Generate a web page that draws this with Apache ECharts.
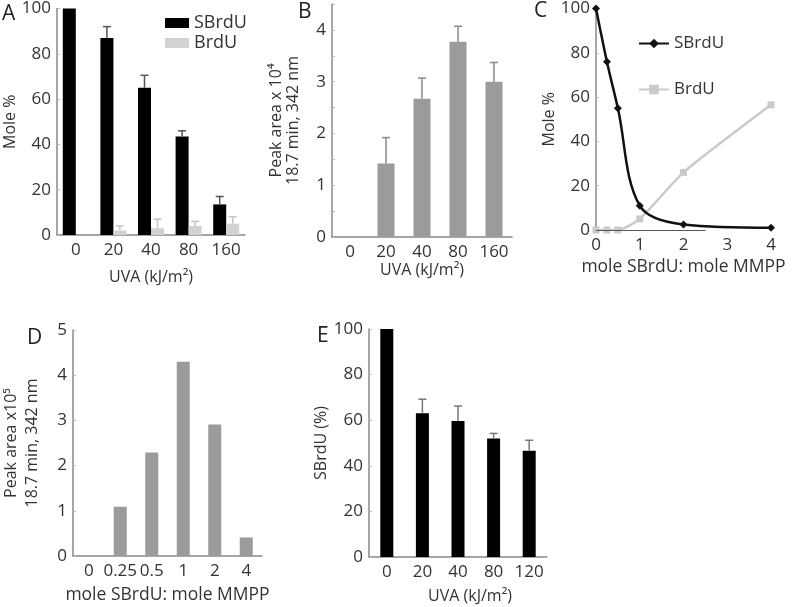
<!DOCTYPE html>
<html><head><meta charset="utf-8">
<script src="https://cdn.jsdelivr.net/npm/echarts@6/dist/echarts.min.js"></script>
<style>html,body{margin:0;padding:0;background:#fff}#c{width:793px;height:607px}</style>
</head><body><div id="c"></div>
<script>
// Panel A
const catsA = ['0','20','40','80','160'];
const sbrduA = [100, 87, 65, 43.5, 13.5];
const sbrduAErr = [0, 5, 5.5, 2.5, 3.5];
const brduA = [0, 2, 3, 4, 5];
const brduAErr = [0, 2, 4, 2, 3];
// Panel B
const catsB = ['0','20','40','80','160'];
const peakB = [0, 1.42, 2.67, 3.77, 3.0];
const peakBErr = [0, 0.5, 0.4, 0.3, 0.37];
// Panel C
const xC = [0, 0.25, 0.5, 1, 2, 4];
const sbrduC = [100, 76, 55, 11, 2.5, 1];
const brduC = [0, 0, 0, 5, 26, 56.5];
// Panel D
const catsD = ['0','0.25','0.5','1','2','4'];
const peakD = [0, 1.09, 2.29, 4.3, 2.91, 0.41];
// Panel E
const catsE = ['0','20','40','80','120'];
const sbrduE = [100, 63, 59.6, 52, 46.6];
const sbrduEErr = [0, 6.2, 6.6, 2.2, 4.6];

const FONT = 'Open Sans';
const TXT = '#333';
const AX = '#888';
const FS = 17;

function errSeries(cats, vals, errs, xi, yi, color, offset) {
  return {
    type: 'custom', xAxisIndex: xi, yAxisIndex: yi, z: 5,
    data: cats.map((c, i) => [i, vals[i], errs[i]]),
    renderItem: function (params, api) {
      const err = api.value(2);
      if (!(err > 0)) return null;
      const p = api.coord([api.value(0), api.value(1)]);
      const q = api.coord([api.value(0), api.value(1) + err]);
      const x = p[0] + offset;
      const st = { stroke: color, lineWidth: 1.5 };
      return { type: 'group', children: [
        { type: 'line', shape: { x1: x, y1: p[1], x2: x, y2: q[1] }, style: st },
        { type: 'line', shape: { x1: x - 4, y1: q[1], x2: x + 4, y2: q[1] }, style: st }
      ]};
    }
  };
}

function yAx(gi, max, interval, name, gap, extra) {
  return Object.assign({
    type: 'value', gridIndex: gi, min: 0, max: max, interval: interval,
    name: name, nameLocation: 'middle', nameGap: gap, nameRotate: 90,
    nameTextStyle: { fontFamily: FONT, fontSize: 16, color: TXT },
    axisLine: { show: true, lineStyle: { color: AX, width: 1.5 } },
    axisTick: { show: true, inside: true, length: 3, lineStyle: { color: '#bbb' } },
    axisLabel: { fontFamily: FONT, fontSize: FS, color: TXT, margin: 6 },
    splitLine: { show: false }
  }, extra || {});
}
function xCat(gi, cats, name, gap, extra) {
  return Object.assign({
    type: 'category', gridIndex: gi, data: cats,
    name: name, nameLocation: 'middle', nameGap: gap,
    nameTextStyle: { fontFamily: FONT, fontSize: 16, color: TXT },
    axisLine: { show: true, lineStyle: { color: AX, width: 1.5 } },
    axisTick: { show: false },
    axisLabel: { fontFamily: FONT, fontSize: FS, color: TXT, margin: 7, interval: 0 },
    splitLine: { show: false }
  }, extra || {});
}

const chart = echarts.init(document.getElementById('c'));
const letter = (t, l, tp) => ({ text: t, left: l, top: tp, padding: 0,
  textStyle: { fontFamily: FONT, fontSize: 21, fontWeight: 'normal', color: '#222' } });

chart.setOption({
  animation: false,
  backgroundColor: '#fff',
  title: [letter('A', 2, 4), letter('B', 298, 2), letter('C', 534, 1), letter('D', 27, 328), letter('E', 317, 326)],
  legend: [
    { data: ['SBrdU', 'BrdU'], left: 160, top: 9, orient: 'vertical', itemWidth: 24, itemHeight: 10, itemGap: 2,
      icon: 'rect', textStyle: { fontFamily: FONT, fontSize: 18, color: TXT } },
    { data: ['SBrdU ', 'BrdU '], left: 633, top: 30, orient: 'vertical', itemWidth: 30, itemHeight: 12, itemGap: 29,
      textStyle: { fontFamily: FONT, fontSize: 17, color: TXT } }
  ],
  grid: [
    { left: 57, top: 5, width: 188, height: 230 },
    { left: 332, top: 4, width: 180, height: 233 },
    { left: 596, top: 5, width: 175, height: 225 },
    { left: 70, top: 330, width: 192, height: 226 },
    { left: 369, top: 329, width: 178, height: 228 }
  ],
  xAxis: [
    xCat(0, catsA, 'UVA (kJ/m²)', 34),
    xCat(1, catsB, 'UVA (kJ/m²)', 25),
    { type: 'value', gridIndex: 2, min: 0, max: 4, interval: 1,
      name: 'mole SBrdU: mole MMPP', nameLocation: 'middle', nameGap: 28,
      nameTextStyle: { fontFamily: FONT, fontSize: 17.5, color: TXT },
      axisLine: { show: false }, axisTick: { show: false },
      axisLabel: { fontFamily: FONT, fontSize: FS, color: TXT, margin: 7 }, splitLine: { show: false } },
    xCat(3, catsD, 'mole SBrdU: mole MMPP', 30, { nameTextStyle: { fontFamily: FONT, fontSize: 17.5, color: TXT } }),
    xCat(4, catsE, 'UVA (kJ/m²)', 31, { nameTextStyle: { fontFamily: FONT, fontSize: 16, color: TXT, padding: [0, 0, 0, 24] } })
  ],
  yAxis: [
    yAx(0, 100, 20, 'Mole %', 34),
    yAx(1, 4.5, 0.5, 'Peak area x 10⁴\n18.7 min, 342 nm', 30, {
      axisLabel: { fontFamily: FONT, fontSize: FS, color: TXT, margin: 6,
        formatter: v => (Math.abs(v - Math.round(v)) < 1e-9 && v < 4.5) ? String(v) : '' },
      nameTextStyle: { fontFamily: FONT, fontSize: 16, color: TXT, lineHeight: 17 } }),
    yAx(2, 100, 20, 'Mole %', 37),
    yAx(3, 5, 1, 'Peak area x10⁵\n18.7 min, 342 nm', 30, {
      nameTextStyle: { fontFamily: FONT, fontSize: 16, color: TXT, lineHeight: 21 } }),
    yAx(4, 100, 20, 'SBrdU (%)', 40)
  ],
  series: [
    { name: 'SBrdU', type: 'bar', xAxisIndex: 0, yAxisIndex: 0, data: sbrduA, barWidth: 13, barGap: '0%',
      itemStyle: { color: '#000' } },
    { name: 'BrdU', type: 'bar', xAxisIndex: 0, yAxisIndex: 0, data: brduA, barWidth: 13, barGap: '0%',
      itemStyle: { color: '#d2d2d2' } },
    errSeries(catsA, sbrduA, sbrduAErr, 0, 0, '#555', -6.5),
    errSeries(catsA, brduA, brduAErr, 0, 0, '#c4c4c4', 6.5),

    { type: 'bar', xAxisIndex: 1, yAxisIndex: 1, data: peakB, barWidth: 17, itemStyle: { color: '#9b9b9b' } },
    errSeries(catsB, peakB, peakBErr, 1, 1, '#8a8a8a', 0),

    { name: 'SBrdU ', type: 'line', xAxisIndex: 2, yAxisIndex: 2, data: xC.map((x, i) => [x, sbrduC[i]]),
      smooth: 0.35, symbol: 'diamond', symbolSize: 8, z: 4,
      lineStyle: { color: '#111', width: 2.5 }, itemStyle: { color: '#111' },
      markLine: { silent: true, symbol: 'none', label: { show: false },
        lineStyle: { color: '#555', width: 1, type: 'solid' },
        data: [[{ coord: [0, 0] }, { coord: [2.5, 0] }]] } },
    { name: 'BrdU ', type: 'line', xAxisIndex: 2, yAxisIndex: 2, data: xC.map((x, i) => [x, brduC[i]]),
      smooth: 0.2, symbol: 'rect', symbolSize: 7, z: 3,
      lineStyle: { color: '#cacaca', width: 2.5 }, itemStyle: { color: '#cacaca' } },

    { type: 'bar', xAxisIndex: 3, yAxisIndex: 3, data: peakD, barWidth: 13, itemStyle: { color: '#9b9b9b' } },

    { type: 'bar', xAxisIndex: 4, yAxisIndex: 4, data: sbrduE, barWidth: 13, itemStyle: { color: '#000' } },
    errSeries(catsE, sbrduE, sbrduEErr, 4, 4, '#777', 0)
  ]
});
</script>
</body></html>
